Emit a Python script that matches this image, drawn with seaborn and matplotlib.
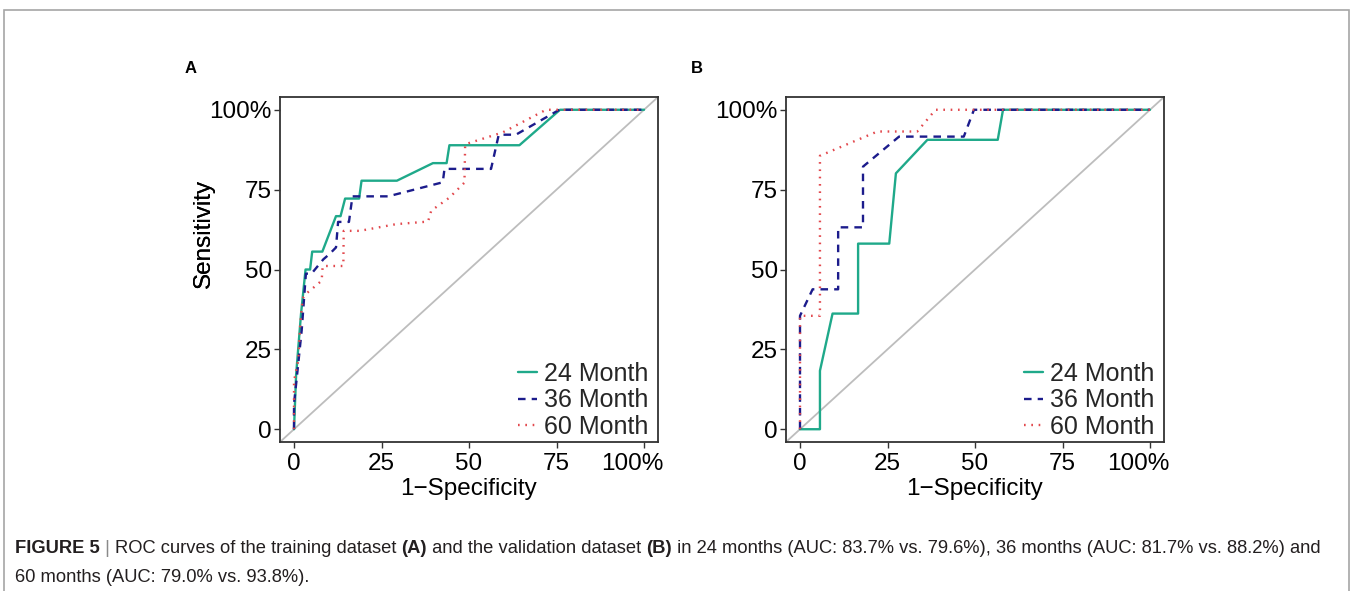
import numpy as np
import pandas as pd
import matplotlib
matplotlib.use("Agg")
import matplotlib.pyplot as plt
import seaborn as sns
from matplotlib.lines import Line2D
from matplotlib.patches import Rectangle
from matplotlib.transforms import ScaledTranslation

# ---------------- data ----------------
months = ["24 Month", "36 Month", "60 Month"]

# Panel A: training dataset
a24_fpr = [0, 0.006, 0.020, 0.033, 0.046, 0.052, 0.081, 0.120, 0.133, 0.146, 0.186, 0.193, 0.294, 0.397, 0.436, 0.444, 0.644, 0.760, 1.0]
a24_tpr = [0, 0.170, 0.360, 0.500, 0.500, 0.556, 0.556, 0.667, 0.667, 0.722, 0.722, 0.778, 0.778, 0.833, 0.833, 0.889, 0.889, 1.0, 1.0]

a36_fpr = [0, 0.0, 0.007, 0.022, 0.034, 0.050, 0.084, 0.101, 0.120, 0.126, 0.157, 0.167, 0.269, 0.425, 0.430, 0.563, 0.585, 0.634, 0.758, 1.0]
a36_tpr = [0, 0.080, 0.151, 0.310, 0.487, 0.487, 0.532, 0.548, 0.569, 0.649, 0.649, 0.729, 0.729, 0.773, 0.815, 0.815, 0.922, 0.922, 1.0, 1.0]

a60_fpr = [0, 0.0, 0.012, 0.018, 0.025, 0.033, 0.050, 0.079, 0.082, 0.141, 0.142, 0.188, 0.292, 0.383, 0.392, 0.444, 0.487, 0.489, 0.596, 0.720, 1.0]
a60_tpr = [0, 0.151, 0.214, 0.330, 0.410, 0.423, 0.438, 0.465, 0.511, 0.511, 0.621, 0.621, 0.642, 0.650, 0.684, 0.725, 0.772, 0.892, 0.929, 1.0, 1.0]

# Panel B: validation dataset
b24_fpr = [0, 0.057, 0.057, 0.093, 0.166, 0.166, 0.255, 0.274, 0.364, 0.565, 0.580, 1.0]
b24_tpr = [0, 0.0, 0.183, 0.362, 0.362, 0.581, 0.581, 0.801, 0.906, 0.906, 1.0, 1.0]

b36_fpr = [0, 0.0, 0.036, 0.109, 0.109, 0.180, 0.180, 0.283, 0.468, 0.497, 1.0]
b36_tpr = [0, 0.355, 0.438, 0.438, 0.632, 0.632, 0.822, 0.916, 0.916, 1.0, 1.0]

b60_fpr = [0, 0.0, 0.057, 0.057, 0.221, 0.335, 0.387, 1.0]
b60_tpr = [0, 0.355, 0.355, 0.856, 0.932, 0.932, 1.0, 1.0]

tick_vals = [0, 0.25, 0.5, 0.75, 1.0]
tick_labels = ["0", "25", "50", "75", "100%"]
panel_letters = ["A", "B"]

caption_line1 = [
    ("FIGURE 5", "bold", "#231f20"),
    (" | ", "normal", "#8a8a8a"),
    ("ROC curves of the training dataset ", "normal", "#231f20"),
    ("(A)", "bold", "#231f20"),
    (" and the validation dataset ", "normal", "#231f20"),
    ("(B)", "bold", "#231f20"),
    (" in 24 months (AUC: 83.7% vs. 79.6%), 36 months (AUC: 81.7% vs. 88.2%) and", "normal", "#231f20"),
]
caption_line2 = [("60 months (AUC: 79.0% vs. 93.8%).", "normal", "#231f20")]

# ---------------- build long table ----------------
rows = []
panels = {
    "A": [(months[0], a24_fpr, a24_tpr), (months[1], a36_fpr, a36_tpr), (months[2], a60_fpr, a60_tpr)],
    "B": [(months[0], b24_fpr, b24_tpr), (months[1], b36_fpr, b36_tpr), (months[2], b60_fpr, b60_tpr)],
}
for p, series in panels.items():
    for m, fx, fy in series:
        for i, (x, y) in enumerate(zip(fx, fy)):
            rows.append(dict(panel=p, month=m, fpr=x, tpr=y, order=i))
df = pd.DataFrame(rows)

# ---------------- style ----------------
sns.set_theme(style="white")
plt.rcParams["font.family"] = ["Liberation Sans", "DejaVu Sans"]

palette = {months[0]: "#1fa98a", months[1]: "#1c1c8c", months[2]: "#e2484d"}
dashes = {months[0]: "", months[1]: (3.2, 2.6), months[2]: (0.7, 2.4)}

W, H = 1352, 591
fig = plt.figure(figsize=(W / 100, H / 100), dpi=100)
fig.patch.set_facecolor("white")

# figure frame (open at the bottom)
fig.patches.append(Rectangle((4 / W, -0.05), (1349 - 4) / W, 1.05 - 10 / H,
                             transform=fig.transFigure, fill=False,
                             edgecolor="#a6a6a6", linewidth=1.2))

ax_left_px = [280, 786]
ax_w_px, ax_top_px, ax_bot_px = 378, 97, 442
fs = 17.5
leg_fs = 18
spine_col = "#333333"

for k, p in enumerate(["A", "B"]):
    ax = fig.add_axes([ax_left_px[k] / W, (H - ax_bot_px) / H, ax_w_px / W, (ax_bot_px - ax_top_px) / H])
    ax.set_facecolor("white")
    ax.axline((0, 0), (1, 1), color="#bdbdbd", linewidth=1.3, zorder=1)
    sub = df[df.panel == p]
    sns.lineplot(data=sub, x="fpr", y="tpr", hue="month", style="month",
                 palette=palette, dashes=dashes, hue_order=months, style_order=months,
                 sort=False, estimator=None, units="month", linewidth=1.7,
                 legend=False, ax=ax, zorder=3)
    for ln in ax.get_lines():
        ln.set_dash_capstyle("butt")
    ax.set_xlim(-0.04, 1.04)
    ax.set_ylim(-0.04, 1.04)
    ax.set_xticks(tick_vals)
    ax.set_yticks(tick_vals)
    ax.set_xticklabels(tick_labels)
    ax.set_yticklabels(tick_labels)
    ax.tick_params(axis="both", which="major", length=4, width=1, color=spine_col,
                   labelsize=fs, labelcolor="black", direction="out", bottom=True, left=True)
    ax.tick_params(axis="x", pad=4)
    ax.tick_params(axis="y", pad=2)
    # "100%" on x is shifted left in the reference
    xl = ax.get_xticklabels()[-1]
    xl.set_transform(xl.get_transform() + ScaledTranslation(-12 / 100, 0, fig.dpi_scale_trans))
    for s in ax.spines.values():
        s.set_visible(True)
        s.set_color(spine_col)
        s.set_linewidth(1.3)
    ax.set_xlabel("1\u2212Specificity", fontsize=fs, color="black")
    ax.set_ylabel("Sensitivity", fontsize=fs, color="black")
    ax.xaxis.set_label_coords(0.5, (ax_bot_px - 489) / (ax_bot_px - ax_top_px))
    ax.xaxis.label.set_va("center")
    ax.yaxis.set_label_coords((204 - ax_left_px[k]) / ax_w_px, (ax_bot_px - 233) / (ax_bot_px - ax_top_px))
    ax.yaxis.label.set_va("center")

    handles = []
    for m in months:
        h = Line2D([0], [0], color=palette[m], linewidth=1.7)
        if dashes[m]:
            h.set_dashes(dashes[m])
        h.set_dash_capstyle("butt")
        handles.append(h)
    ax.legend(handles, months, loc="lower right", frameon=False, fontsize=leg_fs,
              bbox_to_anchor=(0.975, 0.009), borderaxespad=0, borderpad=0.0,
              handlelength=0.75, handletextpad=0.3, labelspacing=0.1)

    fig.text((ax_left_px[k] - 95) / W, (H - 73) / H, panel_letters[k],
             fontsize=12, fontweight="bold", color="black", ha="left", va="baseline")

# ---------------- caption ----------------
fig.canvas.draw()
renderer = fig.canvas.get_renderer()
cap_fs = 13.25


def piece_width(text, weight):
    t1 = fig.text(0, 0, "|" + text + "|", fontsize=cap_fs, fontweight=weight)
    t2 = fig.text(0, 0, "||", fontsize=cap_fs, fontweight=weight)
    w = t1.get_window_extent(renderer).width - t2.get_window_extent(renderer).width
    t1.remove()
    t2.remove()
    return w


def draw_runs(runs, x0, y_base):
    x = x0
    for text, weight, col in runs:
        fig.text(x / W, (H - y_base) / H, text, fontsize=cap_fs, fontweight=weight,
                 color=col, ha="left", va="baseline")
        x += piece_width(text, weight)


draw_runs(caption_line1, 15, 553)
draw_runs(caption_line2, 15, 582)

fig.savefig("out.png", dpi=100, facecolor="white")
